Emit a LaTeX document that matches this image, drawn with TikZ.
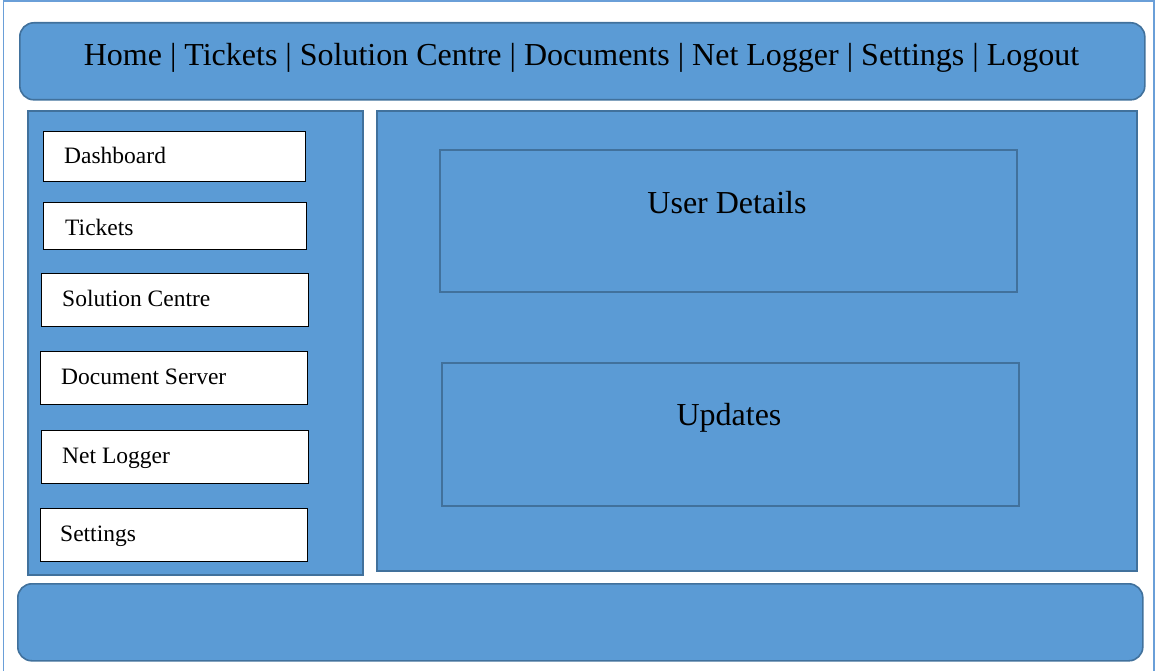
\documentclass[tikz,border=0pt]{standalone}
\usepackage{fontspec}
\setmainfont{Liberation Serif}
\definecolor{fillblue}{HTML}{5B9BD5}
\definecolor{edgeblue}{HTML}{41719C}
\definecolor{frameblue}{HTML}{6A9FD8}
\begin{document}
\begin{tikzpicture}[x=1pt,y=-1pt,
  panel/.style={draw=edgeblue,fill=fillblue,line width=1.6pt,inner sep=0pt,anchor=north west},
  roundpanel/.style={panel,rounded corners=14pt},
  inner/.style={draw=edgeblue,line width=1.6pt,inner sep=0pt,anchor=north west},
  menubox/.style={draw=black,fill=white,line width=0.9pt,inner sep=0pt,anchor=north west},
  menutext/.style={font=\fontsize{23.5}{26}\selectfont,anchor=base west,inner sep=0pt},
  bigtext/.style={font=\fontsize{32}{36}\selectfont,anchor=base,inner sep=0pt}]
\useasboundingbox (0,0) rectangle (1155,671);
% outer frame
\draw[frameblue,line width=1.5pt] (3.5,672) -- (3.5,1) -- (1154,1) -- (1154,672);
% header
\node[roundpanel,minimum width=1125pt,minimum height=77pt] (header) at (19,22) {};
\node[bigtext,font=\fontsize{32}{36}\selectfont] (menu) at (581.5,66) {Home | Tickets | Solution Centre | Documents | Net Logger | Settings | Logout};
% left panel
\node[panel,minimum width=335pt,minimum height=464pt] (left) at (27,110) {};
% right panel
\node[panel,minimum width=760pt,minimum height=460pt] (right) at (376,110) {};
% footer
\node[roundpanel,minimum width=1125pt,minimum height=77pt] (footer) at (17,583) {};
% sidebar boxes
\node[menubox,minimum width=262pt,minimum height=50pt] (b1) at (43,131) {};
\node[menutext] (t1) at (64,164) {Dashboard};
\node[menubox,minimum width=263pt,minimum height=47pt] (b2) at (43,202) {};
\node[menutext] (t2) at (65,235) {Tickets};
\node[menubox,minimum width=267pt,minimum height=53pt] (b3) at (41,273) {};
\node[menutext] (t3) at (62,306) {Solution Centre};
\node[menubox,minimum width=267pt,minimum height=53pt] (b4) at (40,351) {};
\node[menutext] (t4) at (61,384) {Document Server};
\node[menubox,minimum width=267pt,minimum height=53pt] (b5) at (41,430) {};
\node[menutext] (t5) at (62,463) {Net Logger};
\node[menubox,minimum width=267pt,minimum height=53pt] (b6) at (40,508) {};
\node[menutext] (t6) at (60,541) {Settings};
% content boxes
\node[inner,minimum width=577pt,minimum height=142pt] (user) at (439,149) {};
\node[bigtext] (usert) at (727,213) {User Details};
\node[inner,minimum width=577pt,minimum height=143pt] (upd) at (441,362) {};
\node[bigtext] (updt) at (729,425) {Updates};
\end{tikzpicture}
\end{document}
